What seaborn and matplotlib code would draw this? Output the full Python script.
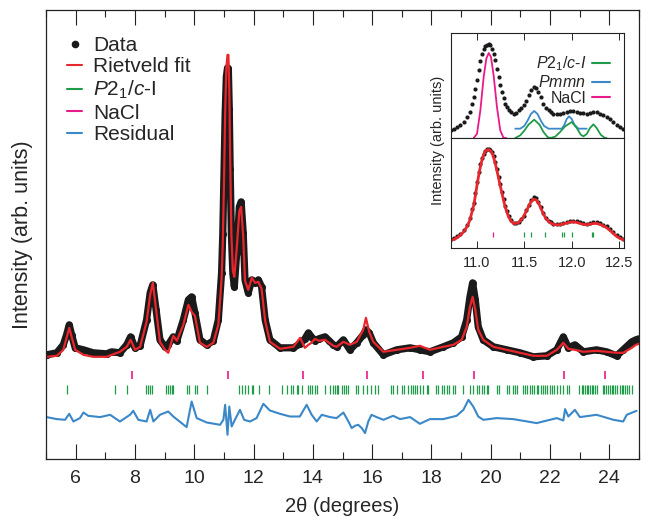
import matplotlib
matplotlib.use("Agg")
import matplotlib.pyplot as plt
from matplotlib.lines import Line2D
import seaborn as sns

# ---- main pattern (2theta in degrees, intensity in arb. units) ----
two_theta = [5.02, 5.36, 5.58, 5.69, 5.78, 5.86, 5.98, 6.26, 6.59, 7.04,
             7.21, 7.49, 7.72, 7.85, 8.00, 8.17, 8.39, 8.51, 8.60, 8.71,
             8.84, 9.01, 9.12, 9.29, 9.41, 9.63, 9.80, 9.91, 10.02, 10.19,
             10.42, 10.64, 10.81, 10.92, 10.96, 11.00, 11.04, 11.08, 11.12, 11.15,
             11.18, 11.21, 11.25, 11.30, 11.35, 11.43, 11.52, 11.58, 11.65, 11.71,
             11.82, 11.94, 12.05, 12.16, 12.27, 12.39, 12.55, 12.89, 13.34, 13.57,
             13.73, 13.85, 13.95, 14.07, 14.20, 14.41, 14.55, 14.69, 14.80, 15.03,
             15.25, 15.48, 15.70, 15.79, 15.90, 16.04, 16.38, 16.83, 17.28, 17.61,
             17.95, 18.40, 18.74, 19.02, 19.19, 19.30, 19.39, 19.48, 19.58, 19.75,
             20.09, 20.54, 20.99, 21.44, 21.89, 22.23, 22.45, 22.62, 22.84, 23.13,
             23.57, 23.91, 24.25, 24.47, 24.76, 24.90, 25.00]
i_obs = [104, 106, 114, 124, 134, 124, 111, 109, 106, 105,
         107, 106, 114, 122, 111, 113, 139, 166, 174, 149,
         119, 112, 114, 122, 118, 139, 159, 162, 146, 119,
         114, 118, 139, 186, 225, 285, 345, 382, 391, 388,
         350, 290, 225, 185, 172, 206, 252, 257, 226, 179,
         166, 179, 176, 179, 172, 139, 119, 111, 111, 115,
         120, 126, 122, 118, 120, 122, 118, 114, 112, 119,
         109, 116, 124, 129, 126, 116, 104, 109, 111, 109,
         107, 112, 116, 122, 139, 162, 176, 159, 132, 119,
         112, 109, 106, 102, 103, 109, 122, 111, 114, 107,
         109, 107, 103, 109, 117, 119, 120]
i_calc = [102, 103, 109, 121, 131, 122, 109, 104, 102, 102,
          104, 107, 112, 119, 109, 112, 137, 164, 176, 149,
          117, 109, 106, 123, 118, 134, 154, 147, 143, 116,
          112, 116, 134, 180, 215, 275, 345, 390, 404, 404,
          370, 300, 225, 188, 182, 210, 248, 252, 222, 178,
          169, 181, 176, 177, 170, 138, 117, 110, 112, 121,
          111, 114, 116, 120, 118, 119, 116, 113, 112, 117,
          114, 117, 129, 141, 127, 117, 107, 109, 111, 113,
          109, 112, 114, 119, 132, 152, 162, 149, 129, 119,
          112, 109, 106, 103, 103, 109, 116, 110, 109, 107,
          108, 107, 106, 106, 111, 114, 115]

res_theta = [5.02, 5.36, 5.64, 5.78, 5.92, 6.14, 6.26, 6.42, 6.82, 7.16,
             7.49, 7.83, 7.94, 8.11, 8.39, 8.51, 8.62, 8.84, 9.12, 9.29,
             9.74, 9.91, 10.08, 10.42, 10.87, 10.98, 11.04, 11.12, 11.18, 11.26,
             11.37, 11.54, 11.68, 11.88, 12.10, 12.33, 12.55, 12.89, 13.23, 13.56,
             13.79, 13.96, 14.13, 14.30, 14.58, 14.80, 15.03, 15.20, 15.31, 15.42,
             15.53, 15.65, 15.76, 15.87, 15.98, 16.15, 16.38, 16.71, 16.94, 17.28,
             17.61, 17.95, 18.40, 18.85, 19.08, 19.25, 19.41, 19.58, 19.75, 20.20,
             20.76, 21.55, 22.23, 22.45, 22.51, 22.62, 22.84, 23.01, 23.57, 24.14,
             24.47, 24.59, 24.92]
residual = [41.7, 39.7, 39, 45, 37.3, 40.7, 46.3, 43, 41.7, 44,
            37.3, 44, 48, 39, 37.3, 49, 37.3, 44, 47.3, 42.3,
            31.7, 57.3, 40.7, 36.3, 34, 39, 54, 24, 52.3, 32.3,
            39, 49, 39, 37.3, 40.7, 55, 48.3, 45, 42.3, 42.3,
            54, 44, 37.3, 44, 41.7, 40.7, 46.3, 37.3, 30.7, 33,
            34, 30.7, 25.7, 37.3, 44, 41.7, 39, 43, 39.7, 41.7,
            35, 39.7, 39.7, 43, 49, 59, 52.3, 42.3, 39, 40.7,
            39.7, 35.7, 40.7, 38.3, 49.7, 42.3, 49, 41.7, 44, 39,
            37.3, 44, 48]

nacl_ticks = [7.89, 11.15, 13.68, 15.82, 17.71, 19.42, 22.46, 23.84]
p21c_ticks = [5.72, 7.32, 7.72, 8.37, 8.43, 8.51, 8.58, 9.05, 9.10, 9.18,
              9.24, 9.29, 9.74, 9.82, 10.02, 10.08, 10.42, 11.51, 11.60, 11.71,
              11.82, 11.94, 11.99, 12.19, 12.53, 12.97, 13.12, 13.25, 13.34, 13.45,
              13.51, 13.62, 13.85, 13.90, 13.96, 14.07, 14.13, 14.41, 14.58, 14.67,
              14.75, 14.80, 14.86, 14.97, 15.05, 15.12, 15.20, 15.46, 15.53, 15.70,
              15.81, 15.95, 16.10, 16.21, 16.62, 16.71, 16.83, 17.00, 17.07, 17.22,
              17.30, 17.39, 17.45, 17.52, 17.61, 17.70, 17.84, 17.90, 18.15, 18.23,
              18.35, 18.42, 18.51, 18.60, 18.72, 18.79, 19.05, 19.30, 19.39, 19.55,
              19.62, 19.70, 19.77, 19.86, 19.92, 20.20, 20.29, 20.54, 20.62, 20.74,
              20.82, 20.90, 21.10, 21.16, 21.21, 21.33, 21.38, 21.46, 21.55, 21.61,
              21.69, 21.78, 21.83, 21.89, 22.00, 22.06, 22.14, 22.23, 22.34, 22.45,
              22.56, 22.65, 22.99, 23.07, 23.13, 23.18, 23.24, 23.29, 23.35, 23.41,
              23.46, 23.52, 23.57, 23.78, 23.82, 23.89, 23.97, 24.02, 24.08, 24.14,
              24.19, 24.27, 24.36, 24.42, 24.47, 24.53, 24.59, 24.68, 24.76]

# ---- inset (zoom on 10.7 - 12.55 deg) ----
inset_theta = [10.727, 10.755, 10.790, 10.825, 10.860, 10.895, 10.923, 10.947, 10.965, 10.982,
               11.000, 11.018, 11.035, 11.053, 11.070, 11.088, 11.105, 11.123, 11.140, 11.158,
               11.175, 11.193, 11.210, 11.228, 11.245, 11.263, 11.280, 11.298, 11.315, 11.333,
               11.358, 11.386, 11.414, 11.438, 11.463, 11.491, 11.519, 11.543, 11.568, 11.596,
               11.624, 11.648, 11.673, 11.701, 11.729, 11.754, 11.778, 11.806, 11.841, 11.876,
               11.911, 11.946, 11.981, 12.016, 12.052, 12.087, 12.122, 12.157, 12.192, 12.227,
               12.262, 12.297, 12.332, 12.367, 12.402, 12.437, 12.472, 12.507, 12.542]
inset_obs_top = [25, 28, 33, 40, 48, 62, 78, 103, 123, 148,
                 175, 203, 230, 253, 266, 275, 280, 283, 279, 268,
                 252, 233, 208, 183, 160, 138, 120, 103, 92, 83,
                 77, 73, 76, 83, 90, 98, 112, 128, 143, 153,
                 149, 138, 122, 103, 90, 83, 77, 73, 72, 73,
                 75, 78, 80, 81, 79, 76, 74, 73, 75, 78,
                 77, 73, 68, 63, 56, 48, 40, 33, 28]
inset_obs_bot = [27, 30, 35, 43, 53, 70, 90, 117, 137, 167,
                 200, 230, 253, 273, 285, 294, 298, 300, 297, 290,
                 277, 260, 238, 215, 193, 170, 148, 127, 112, 97,
                 83, 75, 75, 79, 87, 98, 115, 130, 145, 153,
                 150, 140, 123, 105, 90, 82, 77, 73, 72, 72,
                 75, 78, 81, 82, 80, 77, 74, 73, 75, 77,
                 77, 74, 70, 65, 57, 48, 39, 32, 27]
inset_calc_bot = [23, 26, 31, 39, 49, 65, 83, 109, 129, 157,
                  190, 220, 245, 267, 282, 292, 296, 297, 294, 287,
                  273, 255, 233, 210, 187, 165, 144, 123, 108, 94,
                  81, 74, 74, 77, 84, 95, 111, 125, 139, 147,
                  145, 136, 120, 102, 88, 80, 75, 71, 70, 70,
                  73, 75, 78, 79, 77, 74, 71, 70, 72, 74,
                  74, 71, 67, 61, 53, 44, 35, 29, 25]

nacl_theta = [10.965, 11.000, 11.035, 11.070, 11.098, 11.123, 11.147, 11.175, 11.210, 11.245, 11.280, 11.308]
nacl_peak = [0, 13, 83, 183, 238, 255, 243, 188, 93, 23, 0, 0]
pmmn_theta = [11.403, 11.456, 11.498, 11.533, 11.568, 11.603, 11.638, 11.673, 11.708, 11.754,
              11.894, 11.922, 11.946, 11.971, 11.999, 12.027, 12.069, 12.157]
pmmn_peak = [28, 28, 36, 52, 72, 81, 72, 52, 36, 28,
             28, 40, 57, 65, 57, 40, 28, 28]
p21c_theta = [11.403, 11.456, 11.498, 11.543, 11.603, 11.659, 11.701, 11.743, 11.771, 11.824,
              11.876, 11.929, 11.999, 12.052, 12.094, 12.122, 12.157, 12.192, 12.227, 12.262,
              12.304, 12.349, 12.367]
p21c_peak = [0, 8, 22, 40, 55, 40, 18, 3, 0, 4,
             18, 35, 48, 30, 10, 5, 12, 30, 41, 30,
             10, 0, 0]
inset_nacl_ticks = [11.168]
inset_p21c_ticks = [11.498, 11.568, 11.719, 11.901, 11.922, 12.006, 12.209, 12.227]

RED = "#e8262c"
GREEN = "#1e9c4a"
PINK = "#ea1a8a"
BLUE = "#3b88c9"

sns.set_theme(style="white")
plt.rcParams["font.family"] = ["Liberation Sans", "DejaVu Sans"]
plt.rcParams["mathtext.fontset"] = "custom"
plt.rcParams["mathtext.rm"] = "Liberation Sans"
plt.rcParams["mathtext.it"] = "Liberation Sans:italic"
plt.rcParams["axes.edgecolor"] = "#222222"
plt.rcParams["axes.linewidth"] = 0.9

fig = plt.figure(figsize=(6.46, 5.19), dpi=100)
ax = fig.add_axes([0.0714, 0.116, 0.9176, 0.865])

# observed data: dense dots shown as a thick band plus markers
sns.lineplot(x=two_theta, y=i_obs, color="k", lw=5.2, sort=False, estimator=None, ax=ax)
sns.scatterplot(x=two_theta, y=i_obs, color="k", s=26, linewidth=0, ax=ax)
sns.lineplot(x=two_theta, y=i_calc, color=RED, lw=1.6, sort=False, estimator=None, ax=ax)
ax.vlines(nacl_ticks, 80, 88, color=PINK, lw=1.2)
ax.vlines(p21c_ticks, 65, 74, color=GREEN, lw=0.9)
sns.lineplot(x=res_theta, y=residual, color=BLUE, lw=1.5, sort=False, estimator=None, ax=ax)

ax.set_xlim(5, 25)
ax.set_ylim(0, 449)
ax.set_yticks([])
ax.set_xticks(range(6, 25, 2))
ax.set_xticks(range(5, 26), minor=True)
ax.tick_params(axis="x", which="both", direction="in", top=True, bottom=True,
               labelsize=14, pad=8, color="#222222")
ax.tick_params(axis="x", which="major", length=11, width=0.8)
ax.tick_params(axis="x", which="minor", length=5, width=0.8)
ax.set_xlabel("2θ (degrees)", fontsize=14.5)
ax.xaxis.set_label_coords(0.5, -0.085)
ax.set_ylabel("Intensity (arb. units)", fontsize=15.5)
ax.yaxis.set_label_coords(-0.022, 0.5)

handles = [
    Line2D([], [], marker="o", ls="none", color="k", ms=4.5),
    Line2D([], [], color=RED, lw=1.5),
    Line2D([], [], color=GREEN, lw=1.5),
    Line2D([], [], color=PINK, lw=1.5),
    Line2D([], [], color=BLUE, lw=1.5),
]
labels = ["Data", "Rietveld fit", r"$P2_1/c$-I", "NaCl", "Residual"]
ax.legend(handles, labels, loc="upper left", bbox_to_anchor=(0.018, 0.965), frameon=False,
          fontsize=15, handlelength=0.7, handletextpad=0.55, labelspacing=0.12, borderpad=0)

# ---- inset ----
ax_top = fig.add_axes([0.6981, 0.7341, 0.2678, 0.2023])
ax_bot = fig.add_axes([0.6981, 0.5222, 0.2678, 0.2119])

sns.scatterplot(x=inset_theta, y=inset_obs_top, color="k", s=9, linewidth=0, ax=ax_top)
sns.lineplot(x=nacl_theta, y=nacl_peak, color=PINK, lw=1.3, sort=False, estimator=None, ax=ax_top)
sns.lineplot(x=pmmn_theta, y=pmmn_peak, color=BLUE, lw=1.3, sort=False, estimator=None, ax=ax_top)
sns.lineplot(x=p21c_theta, y=p21c_peak, color=GREEN, lw=1.3, sort=False, estimator=None, ax=ax_top)
ax_top.set_ylim(0, 315)

sns.scatterplot(x=inset_theta, y=inset_obs_bot, color="k", s=9, linewidth=0, ax=ax_bot)
sns.lineplot(x=inset_theta, y=inset_calc_bot, color=RED, lw=2.0, sort=False, estimator=None, ax=ax_bot)
ax_bot.vlines(inset_nacl_ticks, 33, 47, color=PINK, lw=0.9)
ax_bot.vlines(inset_p21c_ticks, 33, 47, color=GREEN, lw=0.9)
ax_bot.set_ylim(0, 332)

for a in (ax_top, ax_bot):
    a.set_facecolor("white")
    a.set_xlim(10.725, 12.55)
    a.set_yticks([])
    a.set_xticks([11.0, 11.5, 12.0, 12.5])
    for s in a.spines.values():
        s.set_linewidth(0.8)

ax_top.tick_params(axis="x", direction="in", top=True, bottom=False, labelbottom=False,
                   length=5, width=0.7)
ax_bot.tick_params(axis="x", direction="in", top=False, bottom=True, labelsize=10.5,
                   length=5, width=0.7, pad=6)
ax_bot.set_xticklabels(["11.0", "11.5", "12.0", "12.5"])

ax_top.legend([Line2D([], [], color=GREEN, lw=1.5), Line2D([], [], color=BLUE, lw=1.5),
               Line2D([], [], color=PINK, lw=1.5)],
              [r"$P2_1/c$-$I$", r"$Pmmn$", "NaCl"],
              loc="upper right", bbox_to_anchor=(0.965, 0.87), frameon=False, markerfirst=False,
              fontsize=11.5, handlelength=1.1, handletextpad=0.4, labelspacing=0.05, borderpad=0)

fig.text(0.678, 0.729, "Intensity (arb. units)", rotation=90, ha="center", va="center", fontsize=10.5)

fig.savefig("out.png", dpi=100)
